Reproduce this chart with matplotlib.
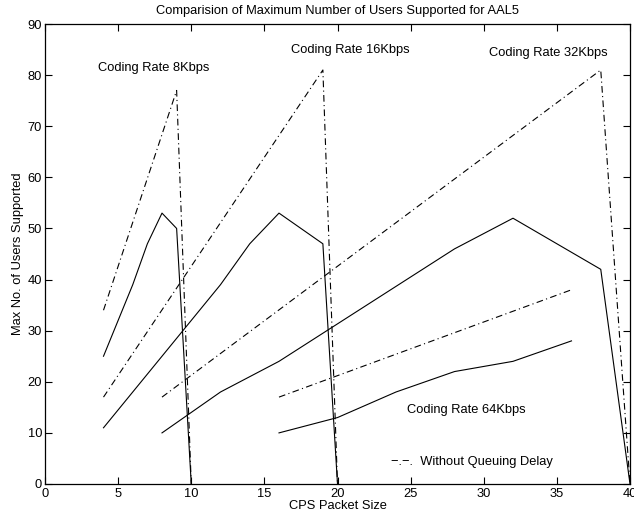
import matplotlib
matplotlib.use("Agg")
import matplotlib.pyplot as plt

plt.rcParams['font.family'] = ['Liberation Sans', 'DejaVu Sans']

# CPS packet size vs maximum number of users, with queuing delay (solid)
x_8k = [4, 5, 6, 7, 8, 9, 10]
y_8k = [25, 32, 39, 47, 53, 50, 0]
x_16k = [4, 8, 12, 14, 16, 19, 20]
y_16k = [11, 25, 39, 47, 53, 47, 0]
x_32k = [8, 12, 16, 28, 32, 38, 40]
y_32k = [10, 18, 24, 46, 52, 42, 0]
x_64k = [16, 20, 24, 28, 32, 36]
y_64k = [10, 13, 18, 22, 24, 28]

# without queuing delay (dash-dot)
x_8k_nq = [4, 9, 10]
y_8k_nq = [34, 77, 0]
x_16k_nq = [4, 19, 20]
y_16k_nq = [17, 81, 0]
x_32k_nq = [8, 38, 40]
y_32k_nq = [17, 81, 0]
x_64k_nq = [16, 36]
y_64k_nq = [17, 38]

x_ticks = [0, 5, 10, 15, 20, 25, 30, 35, 40]
y_ticks = [0, 10, 20, 30, 40, 50, 60, 70, 80, 90]

fig = plt.figure(figsize=(6.34, 5.2), dpi=100)
ax = fig.add_axes([45/634, 1 - 484/520, 585/634, 460/520])

fs = 9.3
lw = 0.8
dashdot = (0, (6, 3, 1, 3))

for xs, ys in [(x_8k, y_8k), (x_16k, y_16k), (x_32k, y_32k), (x_64k, y_64k)]:
    ax.plot(xs, ys, color='black', lw=lw, linestyle='-')
for xs, ys in [(x_8k_nq, y_8k_nq), (x_16k_nq, y_16k_nq),
               (x_32k_nq, y_32k_nq), (x_64k_nq, y_64k_nq)]:
    ax.plot(xs, ys, color='black', lw=lw, linestyle=dashdot)

ax.set_xlim(0, 40)
ax.set_ylim(0, 90)
ax.set_xticks(x_ticks)
ax.set_yticks(y_ticks)
ax.tick_params(direction='in', top=True, right=True, length=5, width=0.8,
               labelsize=fs)
ax.tick_params(axis='x', pad=3)
ax.tick_params(axis='y', pad=2)
for s in ax.spines.values():
    s.set_linewidth(0.9)

ax.text(7.42, 81.4, 'Coding Rate 8Kbps', ha='center', va='center', fontsize=fs)
ax.text(20.9, 84.9, 'Coding Rate 16Kbps', ha='center', va='center', fontsize=fs)
ax.text(34.4, 84.3, 'Coding Rate 32Kbps', ha='center', va='center', fontsize=fs)
ax.text(28.8, 14.5, 'Coding Rate 64Kbps', ha='center', va='center', fontsize=fs)
ax.text(29.2, 4.4, '\u2212.\u2212.  Without Queuing Delay', ha='center', va='center',
        fontsize=fs)

ax.set_title('Comparision of Maximum Number of Users Supported for AAL5',
             fontsize=fs, pad=7)
ax.set_xlabel('CPS Packet Size', fontsize=fs, labelpad=0)
ax.set_ylabel('Max No. of Users Supported', fontsize=fs, labelpad=3)

fig.savefig('out.png', dpi=100)
